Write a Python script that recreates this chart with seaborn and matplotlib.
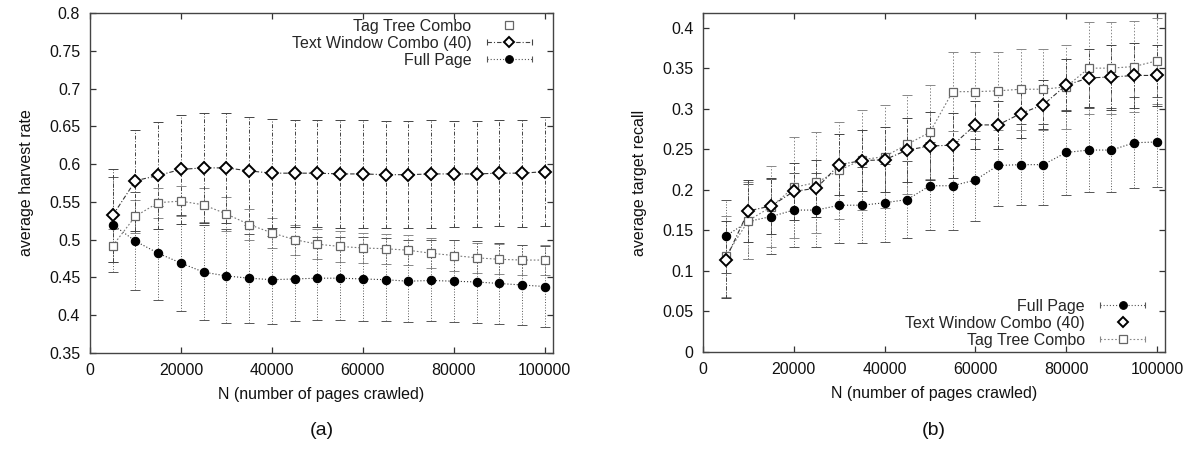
import numpy as np
import pandas as pd
import seaborn as sns
import matplotlib.pyplot as plt
from matplotlib.lines import Line2D
from matplotlib.legend_handler import HandlerLine2D
from matplotlib.ticker import FuncFormatter, MultipleLocator

# pages crawled
pages = [5000, 10000, 15000, 20000, 25000, 30000, 35000, 40000, 45000, 50000,
         55000, 60000, 65000, 70000, 75000, 80000, 85000, 90000, 95000, 100000]

# (a) average harvest rate
full_a = [0.520, 0.498, 0.482, 0.469, 0.457, 0.452, 0.449, 0.447, 0.448, 0.449,
          0.449, 0.448, 0.447, 0.445, 0.446, 0.445, 0.444, 0.442, 0.440, 0.438]
full_a_err = [0.063, 0.065, 0.062, 0.063, 0.063, 0.062, 0.059, 0.058, 0.056, 0.055,
              0.055, 0.056, 0.055, 0.054, 0.054, 0.054, 0.054, 0.054, 0.053, 0.053]
text_a = [0.532, 0.578, 0.585, 0.593, 0.595, 0.595, 0.591, 0.588, 0.588, 0.588,
          0.587, 0.587, 0.586, 0.586, 0.587, 0.587, 0.587, 0.588, 0.588, 0.590]
text_a_err = [0.062, 0.067, 0.071, 0.072, 0.073, 0.073, 0.072, 0.072, 0.071, 0.071,
              0.071, 0.071, 0.071, 0.071, 0.071, 0.070, 0.070, 0.070, 0.071, 0.072]
tag_a = [0.492, 0.531, 0.549, 0.551, 0.546, 0.534, 0.520, 0.509, 0.500, 0.494,
         0.491, 0.489, 0.488, 0.486, 0.482, 0.479, 0.476, 0.474, 0.473, 0.473]
tag_a_err = [0.022, 0.022, 0.020, 0.020, 0.022, 0.022, 0.020, 0.020, 0.020, 0.020,
             0.020, 0.020, 0.020, 0.020, 0.020, 0.020, 0.020, 0.020, 0.020, 0.020]

# (b) average target recall
full_b = [0.143, 0.161, 0.167, 0.175, 0.175, 0.181, 0.181, 0.184, 0.188, 0.205,
          0.205, 0.212, 0.230, 0.231, 0.231, 0.246, 0.249, 0.249, 0.258, 0.259]
full_b_err = [0.045, 0.046, 0.046, 0.046, 0.046, 0.047, 0.047, 0.048, 0.048, 0.054,
              0.055, 0.051, 0.050, 0.050, 0.050, 0.052, 0.052, 0.052, 0.056, 0.056]
text_b = [0.114, 0.174, 0.180, 0.198, 0.202, 0.231, 0.236, 0.237, 0.249, 0.254,
          0.255, 0.280, 0.280, 0.294, 0.305, 0.329, 0.338, 0.339, 0.341, 0.341]
text_b_err = [0.047, 0.038, 0.035, 0.035, 0.035, 0.038, 0.038, 0.040, 0.040, 0.042,
              0.040, 0.030, 0.030, 0.030, 0.030, 0.032, 0.036, 0.040, 0.040, 0.038]
tag_b = [0.118, 0.162, 0.179, 0.203, 0.209, 0.224, 0.237, 0.241, 0.256, 0.271,
         0.321, 0.321, 0.322, 0.324, 0.324, 0.327, 0.350, 0.350, 0.352, 0.359]
tag_b_err = [0.050, 0.047, 0.050, 0.062, 0.062, 0.060, 0.062, 0.063, 0.061, 0.058,
             0.049, 0.049, 0.048, 0.050, 0.050, 0.052, 0.057, 0.057, 0.056, 0.053]

sns.set_theme(style="ticks")
plt.rcParams['font.family'] = ['Liberation Sans', 'DejaVu Sans']

FS = 11.5

# series styles, gnuplot look
styles = {
    'Full Page': dict(color='#333333', bar='#555555', dashes=(1, 1.8), marker='o', ms=6,
                      mfc='black', mec='black', mew=0.8),
    'Text Window Combo (40)': dict(color='#333333', bar='#444444', dashes=(4, 1.8, 1, 1.8),
                                   marker='D', ms=6, mfc='white', mec='black', mew=1.4),
    'Tag Tree Combo': dict(color='#777777', bar='#888888', dashes=(1.5, 1.8), marker='s', ms=6,
                           mfc='white', mec='#666666', mew=0.9),
}


def draw_series(ax, name, vals, errs):
    st = styles[name]
    ax.errorbar(pages, vals, yerr=errs, fmt='none', ecolor=st['bar'],
                elinewidth=0.7, capsize=3.5, capthick=0.7, zorder=2)
    # dashed bar lines like gnuplot
    ax.collections[-1].set_linestyle((0, st['dashes']))
    df = pd.DataFrame({'N': pages, 'v': vals})
    sns.lineplot(data=df, x='N', y='v', ax=ax, estimator=None, color=st['color'],
                 linewidth=0.8, zorder=3)
    ax.lines[-1].set_dashes(st['dashes'])
    ax.plot(pages, vals, linestyle='none', marker=st['marker'], ms=st['ms'],
            mfc=st['mfc'], mec=st['mec'], mew=st['mew'], zorder=4)


def legend_handle(name, with_bars=True):
    st = styles[name]
    mk = Line2D([], [], linestyle='none', marker=st['marker'], ms=st['ms'] - 0.5,
                mfc=st['mfc'], mec=st['mec'], mew=st['mew'])
    if not with_bars:
        return mk, []
    bar = Line2D([], [], color=st['bar'], linewidth=0.8, dashes=st['dashes'],
                 marker='|', ms=5, mew=0.8, mec=st['bar'])
    return (bar, mk), [mk]


def style_axes(ax, ylim, ystep, ylabel):
    ax.set_xlim(0, 101800)
    ax.set_ylim(*ylim)
    ax.xaxis.set_major_locator(MultipleLocator(20000))
    ax.yaxis.set_major_locator(MultipleLocator(ystep))
    ax.yaxis.set_major_formatter(FuncFormatter(lambda v, p: '%g' % round(v, 4)))
    ax.xaxis.set_major_formatter(FuncFormatter(lambda v, p: '%d' % v))
    ax.tick_params(direction='in', length=4, width=0.9, color='#333333',
                   top=True, right=True, labelsize=FS, pad=7, labelcolor='#111111')
    for sp in ax.spines.values():
        sp.set_visible(True)
        sp.set_color('#444444')
        sp.set_linewidth(1.0)
    ax.set_xlabel('N (number of pages crawled)', fontsize=FS, labelpad=7, color='#111111')
    ax.set_ylabel(ylabel, fontsize=FS, labelpad=11, color='#111111')


fig = plt.figure(figsize=(11.98, 4.51), dpi=100)
ax1 = fig.add_axes([0.0751, 0.2173, 0.3865, 0.7539])
ax2 = fig.add_axes([0.5868, 0.2195, 0.3857, 0.7517])

# panel (a)
draw_series(ax1, 'Tag Tree Combo', tag_a, tag_a_err)
draw_series(ax1, 'Full Page', full_a, full_a_err)
draw_series(ax1, 'Text Window Combo (40)', text_a, text_a_err)
style_axes(ax1, (0.35, 0.8), 0.05, 'average harvest rate')

h_tt, _ = legend_handle('Tag Tree Combo', with_bars=False)
h_tw, m_tw = legend_handle('Text Window Combo (40)')
h_fp, m_fp = legend_handle('Full Page')
hmap = {m: HandlerLine2D(numpoints=1) for m in [h_tt] + m_tw + m_fp}
ax1.legend([h_tt, h_tw, h_fp], ['Tag Tree Combo', 'Text Window Combo (40)', 'Full Page'],
           loc='upper right', bbox_to_anchor=(0.995, 1.025), frameon=False,
           markerfirst=False, numpoints=2, handlelength=3.4, handletextpad=0.65,
           labelspacing=0.12, fontsize=FS, handler_map=hmap)

# panel (b)
draw_series(ax2, 'Full Page', full_b, full_b_err)
draw_series(ax2, 'Tag Tree Combo', tag_b, tag_b_err)
draw_series(ax2, 'Text Window Combo (40)', text_b, text_b_err)
style_axes(ax2, (0, 0.418), 0.05, 'average target recall')

h_fp, m_fp = legend_handle('Full Page')
h_tw, _ = legend_handle('Text Window Combo (40)', with_bars=False)
h_tt, m_tt = legend_handle('Tag Tree Combo')
hmap = {m: HandlerLine2D(numpoints=1) for m in [h_tw] + m_fp + m_tt}
ax2.legend([h_fp, h_tw, h_tt], ['Full Page', 'Text Window Combo (40)', 'Tag Tree Combo'],
           loc='lower right', bbox_to_anchor=(0.998, -0.03), frameon=False,
           markerfirst=False, numpoints=2, handlelength=3.4, handletextpad=0.65,
           labelspacing=0.12, fontsize=FS, handler_map=hmap)

fig.text(0.2684, 0.046, '(a)', ha='center', va='center', fontsize=14, color='#111111')
fig.text(0.7797, 0.046, '(b)', ha='center', va='center', fontsize=14, color='#111111')

fig.savefig('out.png', dpi=100)
